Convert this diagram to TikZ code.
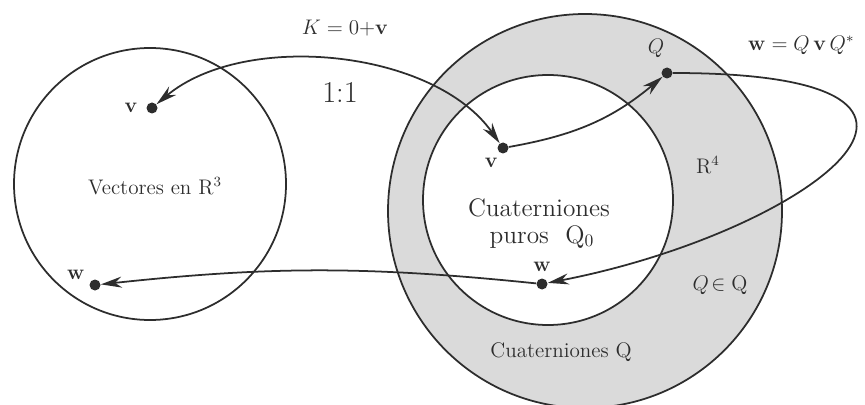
\documentclass[tikz,border=0pt]{standalone}
\usetikzlibrary{arrows.meta, positioning}
\usepackage{amsmath}
\definecolor{DG}{RGB}{45,45,45}
\definecolor{LGr}{RGB}{218,218,218}
\tikzset{
  >={Stealth[length=4.2mm,width=2.2mm]},
  dot/.style={circle, fill=DG, inner sep=0pt, minimum size=2.2mm},
  link/.style={draw=DG, line width=1pt},
  lbl/.style={font=\large, text=DG},
}

\begin{document}
\begin{tikzpicture}
\useasboundingbox (0,0) rectangle (17.3,8.08);
\clip (0,0) rectangle (17.3,8.08);

% Circles (outermost first)
\fill[LGr, draw=DG, line width=1pt]   (11.70,3.86) circle (3.94cm);
\fill[white, draw=DG, line width=1pt] (10.96,4.08) circle (2.50cm);
\draw[DG, line width=1pt]             (3.00,4.40) circle (2.72cm);

% Points
\node[dot] (vL) at (3.04,5.92) {};
\node[dot] (wL) at (1.90,2.38) {};
\node[dot] (vQ) at (10.06,5.12) {};
\node[dot] (Q)  at (13.34,6.62) {};
\node[dot] (wQ) at (10.84,2.40) {};

% Point labels
\node[lbl, left=0.5mm of vL] {$\mathbf{v}$};
\node[lbl, above left=-1mm and 0mm of wL] {$\mathbf{w}$};
\node[lbl, below left=0mm and -1mm of vQ] {$\mathbf{v}$};
\node[lbl, above left=1mm and -1.5mm of Q] {$Q$};
\node[lbl, above=0mm of wQ] {$\mathbf{w}$};

% Maps
\draw[link, <->] (vL) to[out=40,in=125,looseness=0.85] (vQ);
\draw[link, ->]  (vQ) to[out=10,in=-140] (Q);
\draw[link, ->]  (Q) .. controls +(7.2,0) and +(5.2,1.0) .. (wQ);
\draw[link, ->]  (wQ) to[bend right=6] (wL);

% Labels
\node[lbl] at (6.90,7.52) {$K = 0{+}\mathbf{v}$};
\node[font=\LARGE, text=DG] at (6.80,6.24) {1:1};
\node[lbl, anchor=west] at (14.84,7.18) {$\mathbf{w} = Q\,\mathbf{v}\,Q^{*}$};
\node[lbl] at (14.16,4.78) {R$^4$};
\node[lbl] at (14.40,2.38) {$Q\!\in \mathrm{Q}$};
\node[lbl] at (3.10,4.36) {Vectores en R$^3$};
\node[lbl, font=\Large] at (10.78,3.92) {Cuaterniones};
\node[lbl, font=\Large] at (10.84,3.34) {puros \ $\mathrm{Q}_0$};
\node[lbl] at (11.22,1.04) {Cuaterniones $\mathrm{Q}$};
\end{tikzpicture}
\end{document}
